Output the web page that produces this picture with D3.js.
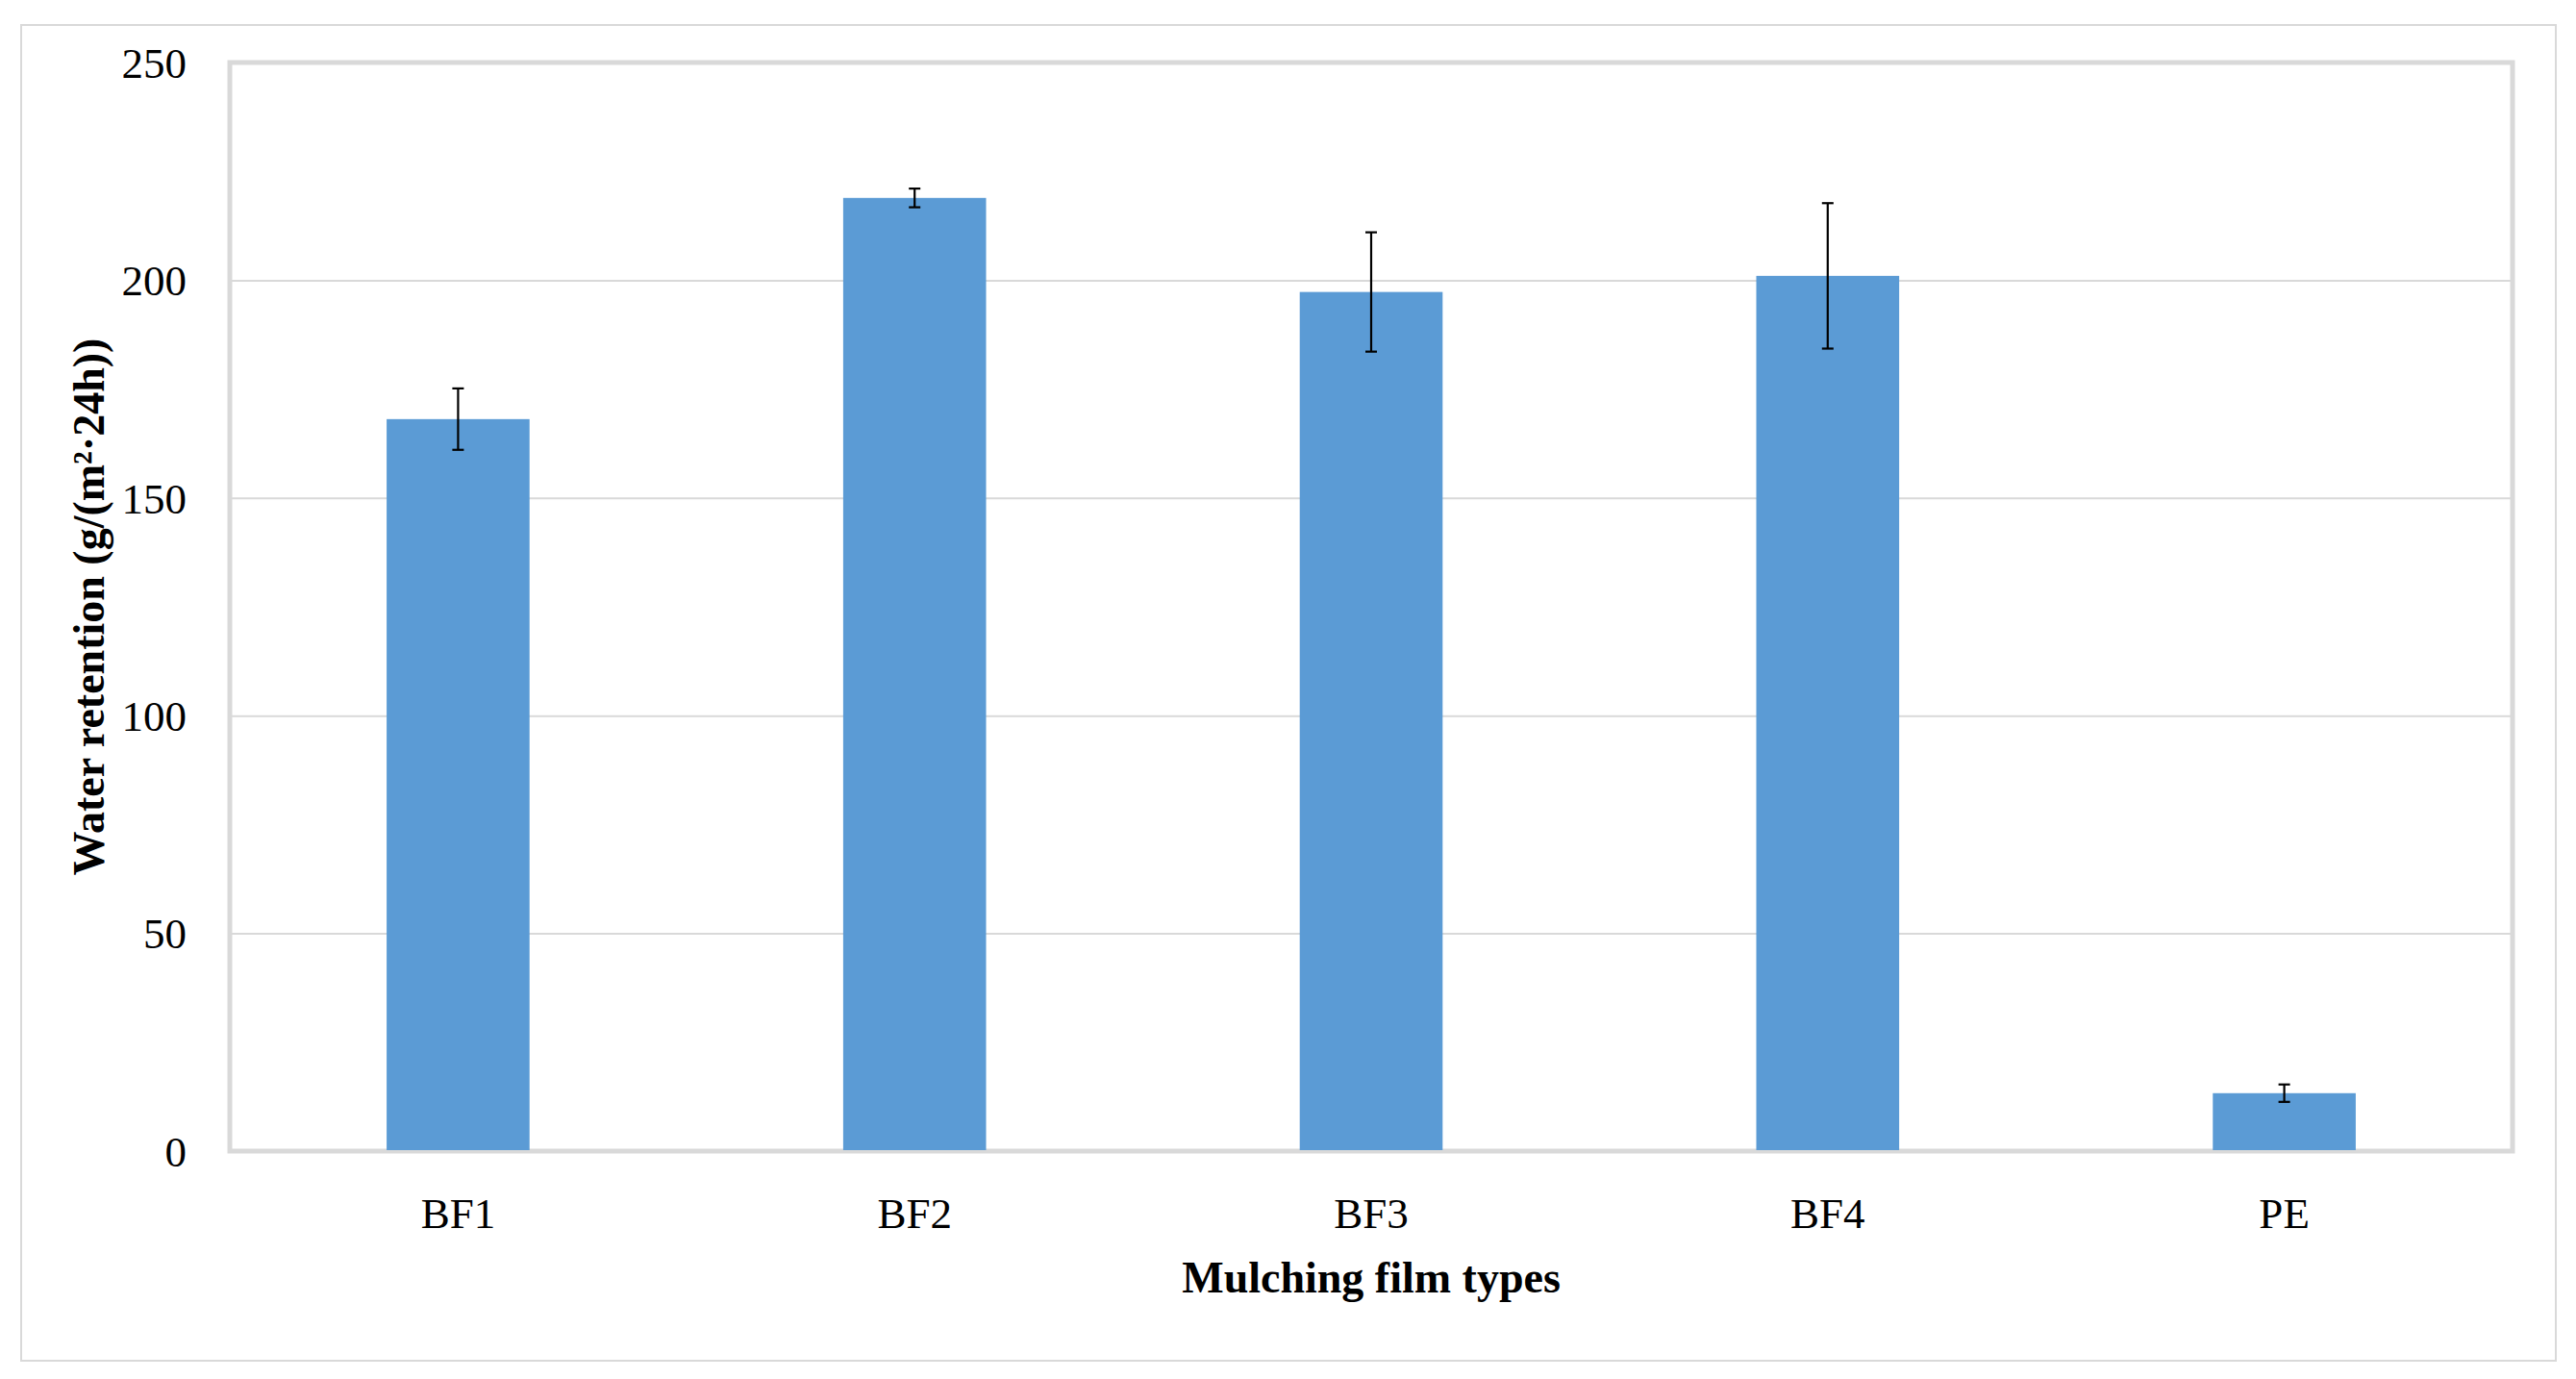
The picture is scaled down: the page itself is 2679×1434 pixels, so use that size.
<!DOCTYPE html>
<html>
<head>
<meta charset="utf-8">
<script src="https://cdn.jsdelivr.net/npm/d3@7"></script>
<style>
  html, body { margin: 0; padding: 0; background: #ffffff; }
  svg { display: block; }
  text { font-family: "Palatino Linotype", "Book Antiqua", Palatino, "Liberation Serif", "DejaVu Serif", serif; fill: #000; }
</style>
</head>
<body>
<svg id="chart" width="2679" height="1434"></svg>
<script>
// ---- data ----
const categories = ["BF1", "BF2", "BF3", "BF4", "PE"];
const values = [168.1, 218.9, 197.3, 201.0, 13.3];
const errors = [7.05, 2.15, 13.7, 16.7, 2.0];
const yTicks = [0, 50, 100, 150, 200, 250];
const yTitle = "Water retention (g/(m²·24h))";
const xTitle = "Mulching film types";

// ---- layout ----
const W = 2679, H = 1434;
const plot = { left: 239, right: 2613, top: 65, bottom: 1197 };
const gridColor = "#d9d9d9";
const barColor = "#5b9bd5";

const svg = d3.select("#chart");

// outer border
svg.append("rect")
  .attr("x", 22).attr("y", 26)
  .attr("width", 2636).attr("height", 1389)
  .attr("fill", "#fff")
  .attr("stroke", gridColor).attr("stroke-width", 2);

const x = d3.scaleBand().domain(categories).range([plot.left, plot.right]).padding(0);
const y = d3.scaleLinear().domain([0, 250]).range([plot.bottom, plot.top]);
const barW = x.bandwidth() * 0.313;

// gridlines
const yAxisGrid = d3.axisLeft(y).tickValues(yTicks.filter(t => t > 0 && t < 250))
  .tickSize(-(plot.right - plot.left)).tickFormat("");
const grid = svg.append("g").attr("transform", `translate(${plot.left},0)`).call(yAxisGrid);
grid.select(".domain").remove();
grid.selectAll("line").attr("stroke", gridColor).attr("stroke-width", 2);

// frame
svg.append("rect")
  .attr("x", plot.left).attr("y", plot.top)
  .attr("width", plot.right - plot.left).attr("height", plot.bottom - plot.top)
  .attr("fill", "none").attr("stroke", gridColor).attr("stroke-width", 5);

// bars
svg.append("g").selectAll("rect")
  .data(categories)
  .join("rect")
  .attr("x", (d) => x(d) + x.bandwidth() / 2 - barW / 2)
  .attr("y", (d, i) => y(values[i]))
  .attr("width", barW)
  .attr("height", (d, i) => y(0) - y(values[i]) - 1)
  .attr("fill", barColor);

// error bars
const eb = svg.append("g").attr("stroke", "#000").attr("stroke-width", 2.2);
categories.forEach((c, i) => {
  const cx = x(c) + x.bandwidth() / 2;
  const hi = y(values[i] + errors[i]);
  const lo = y(values[i] - errors[i]);
  eb.append("line").attr("x1", cx).attr("x2", cx).attr("y1", hi).attr("y2", lo);
  eb.append("line").attr("x1", cx - 6).attr("x2", cx + 6).attr("y1", hi).attr("y2", hi);
  eb.append("line").attr("x1", cx - 6).attr("x2", cx + 6).attr("y1", lo).attr("y2", lo);
});

// y tick labels
const yAxis = d3.axisLeft(y).tickValues(yTicks).tickSize(0).tickPadding(0).tickFormat(d3.format("d"));
const ya = svg.append("g").attr("transform", `translate(194,0)`).call(yAxis);
ya.select(".domain").remove();
ya.selectAll("text")
  .attr("font-size", 45)
  .attr("font-family", null)
  .attr("fill", "#000")
  .attr("dy", "0.34em");

// x tick labels
const xAxis = d3.axisBottom(x).tickSize(0).tickPadding(0);
const xa = svg.append("g").attr("transform", `translate(0,1277)`).call(xAxis);
xa.select(".domain").remove();
xa.selectAll("text")
  .attr("font-size", 45)
  .attr("font-family", null)
  .attr("fill", "#000")
  .attr("dy", 0)
  .attr("y", 0);

// axis titles
svg.append("text")
  .attr("x", (plot.left + plot.right) / 2)
  .attr("y", 1344)
  .attr("text-anchor", "middle")
  .attr("font-size", 46)
  .attr("font-weight", "bold")
  .text(xTitle);

svg.append("text")
  .attr("transform", `translate(108, ${(plot.top + plot.bottom) / 2}) rotate(-90)`)
  .attr("text-anchor", "middle")
  .attr("font-size", 46)
  .attr("font-weight", "bold")
  .text(yTitle);
</script>
</body>
</html>
